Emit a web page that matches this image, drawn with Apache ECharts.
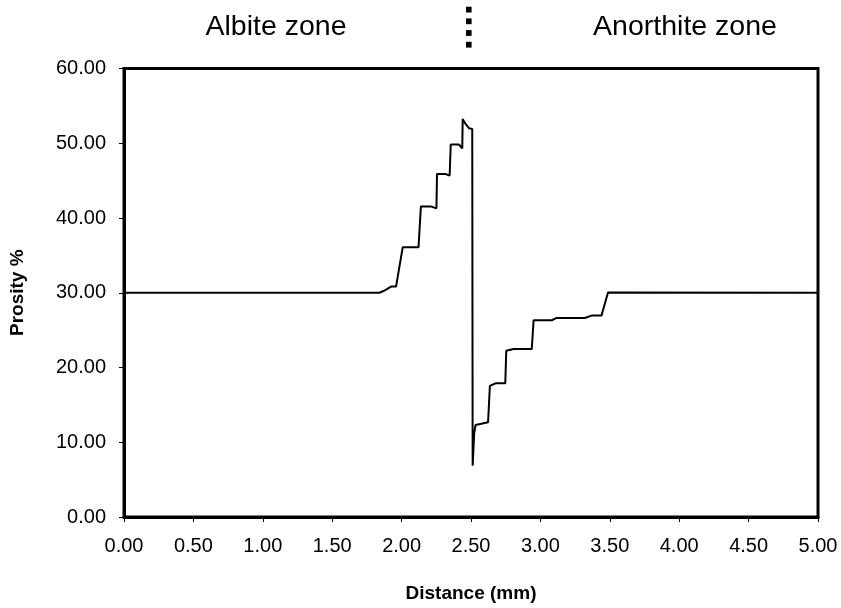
<!DOCTYPE html>
<html>
<head>
<meta charset="utf-8">
<script src="https://cdn.jsdelivr.net/npm/echarts@6/dist/echarts.min.js"></script>
<style>
html,body{margin:0;padding:0;background:#fff;}
#chart{width:841px;height:608px;}
</style>
</head>
<body>
<div id="chart"></div>
<script>
// Data
const distance = [0, 1.841, 1.879, 1.924, 1.960, 2.008, 2.122, 2.139, 2.210, 2.251, 2.255, 2.318, 2.346, 2.354, 2.414, 2.437, 2.440, 2.461, 2.485, 2.509, 2.512, 2.523, 2.533, 2.623, 2.636, 2.676, 2.747, 2.754, 2.807, 2.938, 2.951, 3.082, 3.117, 3.320, 3.368, 3.440, 3.487, 5.0];
const porosity = [30.0, 30.0, 30.33, 30.83, 30.83, 36.08, 36.08, 41.55, 41.55, 41.29, 45.88, 45.88, 45.66, 49.82, 49.82, 49.30, 53.24, 52.58, 52.02, 51.92, 6.85, 11.22, 12.31, 12.67, 17.53, 17.88, 17.88, 22.25, 22.48, 22.48, 26.32, 26.32, 26.63, 26.63, 26.94, 26.94, 30.04, 30.0];
const zoneLabels = ['Albite zone', 'Anorthite zone'];
const xTitle = 'Distance (mm)';
const yTitle = 'Prosity %';

const points = distance.map((d, i) => [d, porosity[i]]);
const font = '"Liberation Sans", Arial, sans-serif';

const chart = echarts.init(document.getElementById('chart'), null, {renderer: 'canvas'});
const dots = [];
for (let k = 0; k < 4; k++) {
  dots.push({type: 'rect', shape: {x: 466, y: 6.7 + k * 11.7, width: 5.6, height: 5.8}, style: {fill: '#000'}});
}
chart.setOption({
  animation: false,
  backgroundColor: '#fff',
  grid: {left: 119.5, right: 23, top: 68.5, bottom: 82.5, show: true, borderColor: '#000', borderWidth: 3, backgroundColor: 'transparent'},
  xAxis: {
    type: 'value', min: 0, max: 5, interval: 0.5,
    name: xTitle, nameLocation: 'middle', nameGap: 67,
    nameTextStyle: {fontFamily: font, fontWeight: 'bold', fontSize: 19, color: '#000'},
    axisLine: {show: true, lineStyle: {color: '#000', width: 3}},
    axisTick: {show: true, length: 5, lineStyle: {color: '#000', width: 1}},
    axisLabel: {fontFamily: font, fontSize: 20, color: '#000', margin: 19, formatter: v => v.toFixed(2)},
    splitLine: {show: false}
  },
  yAxis: {
    type: 'value', min: 0, max: 60, interval: 10,
    name: yTitle, nameLocation: 'middle', nameGap: 97, nameRotate: 90,
    nameTextStyle: {fontFamily: font, fontWeight: 'bold', fontSize: 19, color: '#000'},
    axisLine: {show: true, lineStyle: {color: '#000', width: 3}},
    axisTick: {show: true, length: 5, lineStyle: {color: '#000', width: 1}},
    axisLabel: {fontFamily: font, fontSize: 20, color: '#000', margin: 18, formatter: v => v.toFixed(2)},
    splitLine: {show: false}
  },
  series: [{
    type: 'line', data: points, showSymbol: false, symbol: 'none',
    lineStyle: {color: '#000', width: 2}, clip: true
  }],
  graphic: [
    {type: 'text', x: 276, y: 27, style: {text: zoneLabels[0], font: '28.5px ' + font, fill: '#000', textAlign: 'center', textVerticalAlign: 'middle'}},
    {type: 'text', x: 685, y: 27, style: {text: zoneLabels[1], font: '28.5px ' + font, fill: '#000', textAlign: 'center', textVerticalAlign: 'middle'}}
  ].concat(dots)
});
</script>
</body>
</html>
